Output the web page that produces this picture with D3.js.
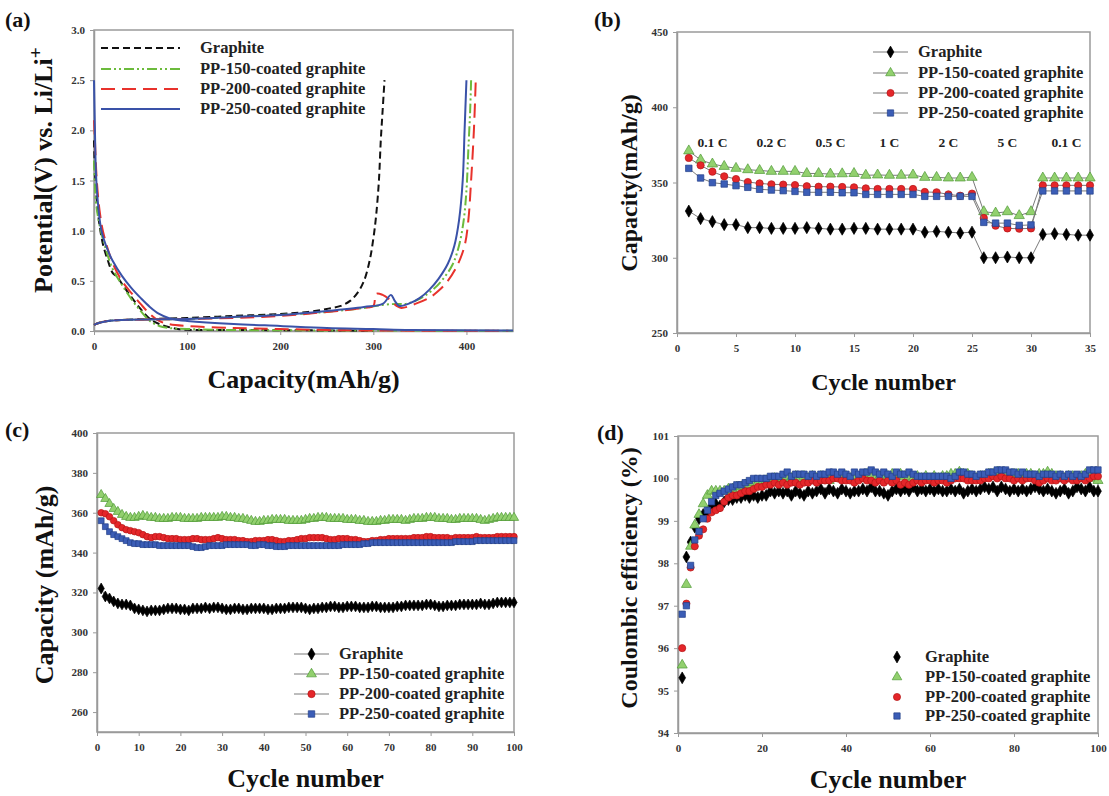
<!DOCTYPE html>
<html>
<head>
<meta charset="utf-8">
<script src="https://cdn.jsdelivr.net/npm/d3@7"></script>
<style>
  body { margin: 0; background: #fff; }
  svg text { font-family: "Liberation Serif", "Times New Roman", serif; font-weight: bold; }
</style>
</head>
<body>
<svg width="1109" height="796"></svg>
<script>
// ---------- data ----------
var seriesNames = ["Graphite", "PP-150-coated graphite", "PP-200-coated graphite", "PP-250-coated graphite"];

// (a) voltage profiles, [capacity, potential]
var graphiteDischarge = [[0,1.9],[1,1.6],[3,1.3],[6,1.05],[10,0.85],[15,0.7],[20,0.58],[25,0.54],[30,0.47],[40,0.34],[50,0.22],[60,0.12],[70,0.07],[80,0.04],[90,0.02],[100,0.012],[150,0.01],[200,0.008],[260,0.005],[300,0.002]];
var pp150Discharge = [[0,1.7],[2,1.3],[5,1.1],[10,0.9],[20,0.62],[30,0.46],[40,0.32],[50,0.2],[60,0.1],[70,0.05],[80,0.03],[100,0.02],[150,0.01],[300,0.005],[450,0.002]];
var pp200Discharge = [[0,2.1],[1,1.9],[3,1.5],[6,1.2],[10,0.98],[20,0.68],[30,0.5],[40,0.38],[50,0.27],[60,0.17],[70,0.1],[80,0.07],[100,0.05],[150,0.03],[200,0.02],[250,0.01],[300,0.005],[445,0.002]];
var pp250Discharge = [[0,2.5],[1,2.0],[2,1.6],[4,1.3],[8,1.0],[15,0.8],[20,0.7],[30,0.55],[40,0.43],[50,0.33],[60,0.24],[70,0.17],[80,0.13],[90,0.11],[100,0.1],[150,0.07],[200,0.05],[250,0.03],[300,0.02],[340,0.01],[450,0.005]];
var graphiteCharge = [[0,0.06],[5,0.08],[15,0.1],[30,0.11],[60,0.12],[100,0.13],[150,0.15],[200,0.17],[230,0.19],[250,0.22],[265,0.25],[275,0.3],[283,0.38],[290,0.5],[296,0.7],[300,0.92],[303,1.15],[306,1.5],[308,1.9],[310,2.2],[312,2.5]];
var pp150Charge = [[0,0.06],[5,0.08],[15,0.1],[30,0.11],[60,0.115],[100,0.12],[150,0.14],[200,0.16],[250,0.19],[290,0.23],[310,0.26],[325,0.27],[335,0.27],[345,0.3],[355,0.35],[365,0.42],[375,0.52],[385,0.66],[392,0.85],[397,1.1],[400,1.4],[402,1.8],[404,2.2],[405,2.5]];
var pp200Charge = [[0,0.06],[5,0.08],[15,0.1],[30,0.11],[60,0.115],[100,0.12],[150,0.13],[200,0.15],[250,0.19],[290,0.23],[300,0.25],[303,0.37],[310,0.36],[318,0.31],[325,0.25],[330,0.23],[345,0.27],[360,0.33],[370,0.4],[380,0.5],[390,0.65],[398,0.85],[402,1.1],[405,1.5],[408,2.0],[410,2.5]];
var pp250Charge = [[0,0.06],[5,0.08],[15,0.1],[30,0.11],[60,0.115],[100,0.12],[150,0.14],[200,0.16],[250,0.2],[290,0.24],[310,0.27],[319,0.36],[323,0.3],[328,0.25],[340,0.28],[350,0.33],[360,0.41],[370,0.52],[380,0.67],[387,0.85],[392,1.1],[396,1.5],[398,2.0],[400,2.5]];

// (b) rate capability, cycles 1..35
var rateGraphite = [331,326,324,322,322,320,320,319.5,319.5,319.5,320,319.5,319,319,319.5,319.5,319,319,319,319,317,317.5,317,316.5,317,300,300,300.5,300,300,315.5,316,315.5,315,315];
var ratePP150 = [371,365,362.3,360.7,359.4,358.5,358,357.4,357.4,357.4,356,356,355.6,355.8,356,354.8,355,354.8,354.8,355,353.4,353.4,353,353,353.4,330.6,329.7,330.6,328,330.6,353,353,353,353,353];
var ratePP200 = [366.3,361.4,357.2,354.1,352.3,350.3,349.4,348.8,348.6,348.3,347.5,347.2,347.2,347,346.8,346.1,345.7,345.7,345.7,345.7,343.7,343.5,342.1,341.2,342.6,326.4,321.3,319.5,319.3,319.5,348.1,348.1,348.1,348.1,348.1];
var ratePP250 = [359.4,353,349.9,349,347.9,346.8,345.5,345,344.6,344.1,343.5,343.5,343.5,343.2,343.2,342.1,342.1,342.1,342.1,342.1,340.8,340.8,340.8,340.8,340.8,323.5,323,323,321.5,321.8,344.4,344.4,344.4,344.4,344.4];
var rateLabels = ["0.1 C", "0.2 C", "0.5 C", "1 C", "2 C", "5 C", "0.1 C"];
var rateLabelCycles = [3, 8, 13, 18, 23, 28, 33];

// (c) cycling capacity, cycles 1..100
var cycGraphite = [322,318,317,315.5,314.5,314,314,313.5,312,311.5,311,310.5,311,311,311,311.5,312,312,312,311.5,311.5,311,312,312,312,312.5,312,312.5,312.5,312,311.5,311.5,312,312,311.5,311.5,312,312,312,312,311.5,311.5,312,312,312,312.5,312.5,312.5,312.5,312,311.5,312,312,312.5,312.5,313,313,312.5,312.5,313,313,313,312.5,312.5,312.5,313,313,312.5,312.5,312.5,312.5,313,313,313.5,313.5,313.5,313.5,313.5,314,314,313.5,313,313,313.5,313.5,313.5,314,314,314,314,314,314.5,314,314,314.5,315,315,315,315,315];
var cycPP150 = [369,367,364.5,362,360.5,359,358,357.5,357.5,358,358.5,358,357.5,357.5,357,357,357,357.5,357.5,357.5,357,357,357,357,357.5,357.5,357.5,357.5,357.5,358,358,357.5,357.5,357,357,356.5,356,355.5,355.5,356,356,356.5,356.5,356.5,356.5,356,356,356,356,356.5,357,357,357.5,357.5,357.5,357,357,357,357,356.5,356.5,356.5,356,356,355.5,355.5,355.5,356,356,356.5,356.5,356.5,356.5,356,356.5,357,357,357,357.5,357.5,357.5,357,357,357,356.5,356.5,357,357,357,357,357,356.5,356,356.5,357,357.5,357.5,357.5,357.5,357.5];
var cycPP200 = [360,359.5,358,356,354,352.5,351.5,351,350.5,350,349,348,347.5,348,348,347.5,347,347,347,346.5,346.5,346.5,347,347,346.5,346.5,346.5,347,347.5,347,346.5,346.5,346.5,346,346,345.5,345.5,346,346,346,346.5,346.5,346,345.5,345.5,346,346,346.5,347,347,347.5,347.5,347.5,347.5,347,346.5,346.5,347,347,347,346.5,346.5,346,345.5,345.5,346,346,346.5,346.5,347,347,347,347,347,347,347.5,347.5,347.5,348,348,347.5,347.5,347.5,347.5,347,347.5,347.5,347.5,347.5,347.5,348,347.5,347.5,347.5,347.5,348,348,348,348,348];
var cycPP250 = [356,353,350.5,349,348,347,346,345,344.5,344.5,344,344,344,344,343.5,343.5,343.5,343.5,343.5,343.5,343.5,343.5,343,342.5,342.5,343,343.5,343.5,343.5,343.5,344,344,344,344,344,344,343.5,343.5,344,344,343.5,343.5,343,343,343,343.5,343.5,343.5,343.5,343.5,343.5,343.5,343.5,343.5,343.5,343.5,343.5,343.5,344,344,344,344,344,344.5,344.5,345,345,345,345,345,345,345,345,345,345,345,345,345,345,345,345,345,345,345,345,345.5,345.5,345.5,345.5,345.5,346,346,346,346,346,346,346,346,346,346];

// (d) coulombic efficiency, cycles 1..100
var ceGraphite = [95.3,98.15,98.5,98.85,99.05,99.15,99.2,99.35,99.4,99.35,99.45,99.5,99.5,99.55,99.55,99.6,99.55,99.6,99.55,99.6,99.6,99.7,99.65,99.7,99.65,99.7,99.6,99.7,99.65,99.6,99.7,99.65,99.7,99.75,99.65,99.75,99.7,99.65,99.75,99.7,99.65,99.7,99.7,99.75,99.7,99.8,99.7,99.7,99.65,99.6,99.7,99.75,99.7,99.75,99.7,99.8,99.7,99.75,99.7,99.75,99.7,99.75,99.7,99.7,99.75,99.7,99.75,99.65,99.7,99.75,99.7,99.75,99.8,99.75,99.8,99.7,99.8,99.75,99.7,99.75,99.7,99.75,99.7,99.75,99.8,99.75,99.7,99.75,99.7,99.65,99.7,99.75,99.65,99.7,99.8,99.75,99.7,99.8,99.7,99.7];
var cePP150 = [95.6,97.5,98.4,98.9,99.15,99.4,99.6,99.7,99.7,99.7,99.7,99.75,99.75,99.8,99.8,99.85,99.85,99.9,99.9,99.9,99.95,99.95,100,99.95,100,100.05,100,100.05,100,100.05,100,100.05,100,100.05,100,99.95,100.05,100,100.05,100.05,100,100.05,100,100.05,100.1,100.05,100,100.05,100,100.05,100.1,100.05,100.1,100.05,100.05,100,100.05,100,100.05,100,100.05,100,100.05,100.05,100.1,100.1,100.15,100.1,100.1,100.05,100,100.05,100.05,100.1,100.1,100.15,100.1,100.1,100.05,100.1,100.1,100.05,100.1,100.1,100.05,100.1,100.1,100.15,100.1,100.05,100.05,100,100.05,100.05,100,100.05,100.1,100.05,100,99.95];
var cePP200 = [96.0,97.05,97.9,98.4,98.65,98.8,99.05,99.2,99.25,99.3,99.45,99.55,99.6,99.6,99.65,99.7,99.7,99.75,99.8,99.8,99.85,99.85,99.9,99.85,99.9,99.85,99.9,99.9,99.85,99.9,99.9,99.95,99.9,99.95,99.95,99.95,100,100,99.95,99.95,99.95,99.9,99.95,100,99.95,99.95,99.9,99.95,99.9,99.95,99.9,99.95,99.85,99.9,99.85,99.9,99.95,99.9,99.95,99.95,99.9,99.95,99.95,99.9,99.95,100,100,100,99.95,99.95,99.95,99.95,100,100,100.05,100,100.05,100,100,99.95,100,99.95,100,100,99.95,99.9,99.95,100,99.95,99.95,100,99.95,100,99.95,99.95,100,99.95,100,100.05,100.05];
var cePP250 = [96.8,97.0,97.95,98.55,98.75,99.05,99.25,99.45,99.6,99.65,99.7,99.75,99.8,99.85,99.85,99.9,99.95,100,100,100,100,100.05,100.05,100.05,100.1,100.15,100.05,100.1,100.1,100.1,100.05,100.1,100.05,100.1,100.1,100.15,100.15,100.1,100.15,100.1,100.05,100.15,100.1,100.15,100.15,100.2,100.15,100.1,100.15,100.1,100.05,100.15,100.1,100.1,100.15,100.1,100.05,100.05,100.05,100.05,100.05,100.05,100.05,100.05,100,100.05,100.15,100.15,100.1,100.1,100.05,100.1,100.1,100.15,100.15,100.2,100.2,100.2,100.15,100.15,100.1,100.15,100.1,100.1,100.1,100.05,100.1,100.1,100.1,100.05,100.1,100.05,100.1,100.05,100.1,100.05,100.1,100.2,100.2,100.2];

// ---------- styling ----------
var lineColors = ["#111", "#6cbb3c", "#e8322c", "#3a52a8"];
var lineDash = ["7,4", "10,3,2,3,2,3", "14,7", null];
var markerFill = ["#000", "#92d06e", "#e4262a", "#3b5db6"];
var markerStroke = ["#000", "#4f9a37", "#b51616", "#233f88"];
var markerShape = [d3.symbolDiamond, d3.symbolTriangle, d3.symbolCircle, d3.symbolSquare];

var svg = d3.select("svg");
var frameColor = "#9a9a9a";

function panel(opt) {
  var g = svg.append("g");
  var x = d3.scaleLinear().domain(opt.xd).range(opt.xr);
  var y = d3.scaleLinear().domain(opt.yd).range(opt.yr);

  var yAxis = d3.axisLeft(y).tickValues(opt.yt).tickSizeInner(4).tickSizeOuter(0).tickPadding(5).tickFormat(opt.yf || d3.format("d"));
  var xAxis = d3.axisBottom(x).tickValues(opt.xt).tickSizeInner(4).tickSizeOuter(0).tickPadding(7).tickFormat(d3.format("d"));

  g.append("rect")
    .attr("x", opt.xr[0]).attr("y", opt.yr[1])
    .attr("width", opt.xr[1] - opt.xr[0]).attr("height", opt.yr[0] - opt.yr[1])
    .attr("fill", "none").attr("stroke", frameColor).attr("stroke-width", 1.5);

  var ya = g.append("g").attr("transform", "translate(" + opt.xr[0] + ",0)").call(yAxis);
  var xa = g.append("g").attr("transform", "translate(0," + opt.yr[0] + ")").call(xAxis);
  [ya, xa].forEach(function (a) {
    a.select(".domain").attr("stroke", frameColor).attr("stroke-width", 1.5);
    a.selectAll(".tick line").attr("stroke", frameColor);
    a.selectAll(".tick text").attr("fill", "#333").style("font-size", "11px")
      .style("font-family", "'Liberation Serif', serif").style("font-weight", "bold");
  });

  g.append("text").text(opt.label).attr("x", opt.labelPos[0]).attr("y", opt.labelPos[1])
    .style("font-size", "22px").attr("fill", "#111");

  g.append("text").text(opt.xTitle)
    .attr("x", (opt.xr[0] + opt.xr[1]) / 2).attr("y", opt.xTitleY)
    .attr("text-anchor", "middle").style("font-size", opt.xTitleSize + "px").attr("fill", "#111");

  var yt = g.append("text")
    .attr("transform", "translate(" + opt.yTitlePos[0] + "," + opt.yTitlePos[1] + ") rotate(-90)")
    .attr("text-anchor", "middle").style("font-size", opt.yTitleSize + "px").attr("fill", "#111");
  yt.append("tspan").text(opt.yTitle);
  if (opt.yTitleSup) {
    yt.append("tspan").text(opt.yTitleSup).attr("baseline-shift", "super").style("font-size", (opt.yTitleSize * 0.75) + "px");
  }

  return { g: g, x: x, y: y };
}

// ---------- (a) ----------
var pa = panel({
  xd: [0, 450], xr: [94, 513], yd: [0, 3], yr: [331, 30],
  xt: [0, 100, 200, 300, 400], yt: [0, 0.5, 1, 1.5, 2, 2.5, 3], yf: d3.format(".1f"),
  label: "(a)", labelPos: [5, 27],
  xTitle: "Capacity(mAh/g)", xTitleY: 388, xTitleSize: 26,
  yTitle: "Potential(V) vs. Li/Li", yTitleSup: "+", yTitlePos: [52, 170], yTitleSize: 26
});

var voltageLine = d3.line()
  .x(function (d) { return pa.x(d[0]); })
  .y(function (d) { return pa.y(d[1]); })
  .curve(d3.curveCatmullRom.alpha(0.5));

var aCurves = [
  [graphiteDischarge, graphiteCharge],
  [pp150Discharge, pp150Charge],
  [pp200Discharge, pp200Charge],
  [pp250Discharge, pp250Charge]
];
aCurves.forEach(function (pair, i) {
  pair.forEach(function (c) {
    pa.g.append("path").datum(c).attr("d", voltageLine)
      .attr("fill", "none").attr("stroke", lineColors[i]).attr("stroke-width", 2)
      .attr("stroke-dasharray", lineDash[i]);
  });
});

var aLegendY = [48, 69, 89, 109];
seriesNames.forEach(function (n, i) {
  pa.g.append("line").attr("x1", 101).attr("x2", 180).attr("y1", aLegendY[i]).attr("y2", aLegendY[i])
    .attr("stroke", lineColors[i]).attr("stroke-width", 2).attr("stroke-dasharray", lineDash[i]);
  pa.g.append("text").text(n).attr("x", 200).attr("y", aLegendY[i] + 5)
    .style("font-size", "16.5px").attr("fill", "#222");
});

// helper for marker series
function drawSeries(p, values, i, size, withLine) {
  var pts = values.map(function (v, k) { return [k + 1, v]; });
  if (withLine) {
    p.g.append("path").datum(pts)
      .attr("d", d3.line().x(function (d) { return p.x(d[0]); }).y(function (d) { return p.y(d[1]); }))
      .attr("fill", "none").attr("stroke", "#7a7a7a").attr("stroke-width", 1);
  }
  p.g.append("g").selectAll("path").data(pts).enter().append("path")
    .attr("d", d3.symbol().type(markerShape[i]).size(i === 1 ? size * 1.1 : size))
    .attr("transform", function (d) { return "translate(" + p.x(d[0]) + "," + p.y(d[1]) + ")"; })
    .attr("fill", markerFill[i]).attr("stroke", markerStroke[i]).attr("stroke-width", 0.7);
}

function markerLegend(p, x0, x1, tx, ys, size, withLine) {
  seriesNames.forEach(function (n, i) {
    if (withLine) {
      p.g.append("line").attr("x1", x0).attr("x2", x1).attr("y1", ys[i]).attr("y2", ys[i])
        .attr("stroke", "#7a7a7a").attr("stroke-width", 1);
    }
    p.g.append("path").attr("d", d3.symbol().type(markerShape[i]).size(size))
      .attr("transform", "translate(" + ((x0 + x1) / 2) + "," + ys[i] + ")")
      .attr("fill", markerFill[i]).attr("stroke", markerStroke[i]).attr("stroke-width", 0.7);
    p.g.append("text").text(n).attr("x", tx).attr("y", ys[i] + 5)
      .style("font-size", "16.5px").attr("fill", "#222");
  });
}

// ---------- (b) ----------
var pb = panel({
  xd: [0, 35], xr: [677, 1090], yd: [250, 450], yr: [333, 32],
  xt: [0, 5, 10, 15, 20, 25, 30, 35], yt: [250, 300, 350, 400, 450],
  label: "(b)", labelPos: [594, 27],
  xTitle: "Cycle number", xTitleY: 390, xTitleSize: 24,
  yTitle: "Capacity(mAh/g)", yTitlePos: [637, 183], yTitleSize: 24
});
[rateGraphite, ratePP150, ratePP200, ratePP250].forEach(function (s, i) { drawSeries(pb, s, i, 42, true); });
rateLabels.forEach(function (t, k) {
  pb.g.append("text").text(t).attr("x", pb.x(rateLabelCycles[k])).attr("y", pb.y(377) + 5)
    .attr("text-anchor", "middle").style("font-size", "13.5px").attr("fill", "#222");
});
markerLegend(pb, 873, 908, 918, [52, 73, 93, 113], 40, true);

// ---------- (c) ----------
var pc = panel({
  xd: [0, 100], xr: [97, 514], yd: [250, 400], yr: [732, 433],
  xt: d3.range(0, 101, 10), yt: [260, 280, 300, 320, 340, 360, 380, 400],
  label: "(c)", labelPos: [5, 437],
  xTitle: "Cycle number", xTitleY: 787, xTitleSize: 26,
  yTitle: "Capacity (mAh/g)", yTitlePos: [53, 585], yTitleSize: 26
});
[cycGraphite, cycPP150, cycPP200, cycPP250].forEach(function (s, i) { drawSeries(pc, s, i, 34, true); });
markerLegend(pc, 294, 329, 339, [654, 674, 694, 714], 42, true);

// ---------- (d) ----------
var pd = panel({
  xd: [0, 100], xr: [678, 1098], yd: [94, 101], yr: [733, 436],
  xt: [0, 20, 40, 60, 80, 100], yt: [94, 95, 96, 97, 98, 99, 100, 101],
  label: "(d)", labelPos: [597, 440],
  xTitle: "Cycle number", xTitleY: 788, xTitleSize: 26,
  yTitle: "Coulombic efficiency (%)", yTitlePos: [637, 578], yTitleSize: 24
});
[ceGraphite, cePP150, cePP200, cePP250].forEach(function (s, i) { drawSeries(pd, s, i, 40, false); });
markerLegend(pd, 890, 904, 925, [657, 677, 697, 716], 40, false);
</script>
</body>
</html>
